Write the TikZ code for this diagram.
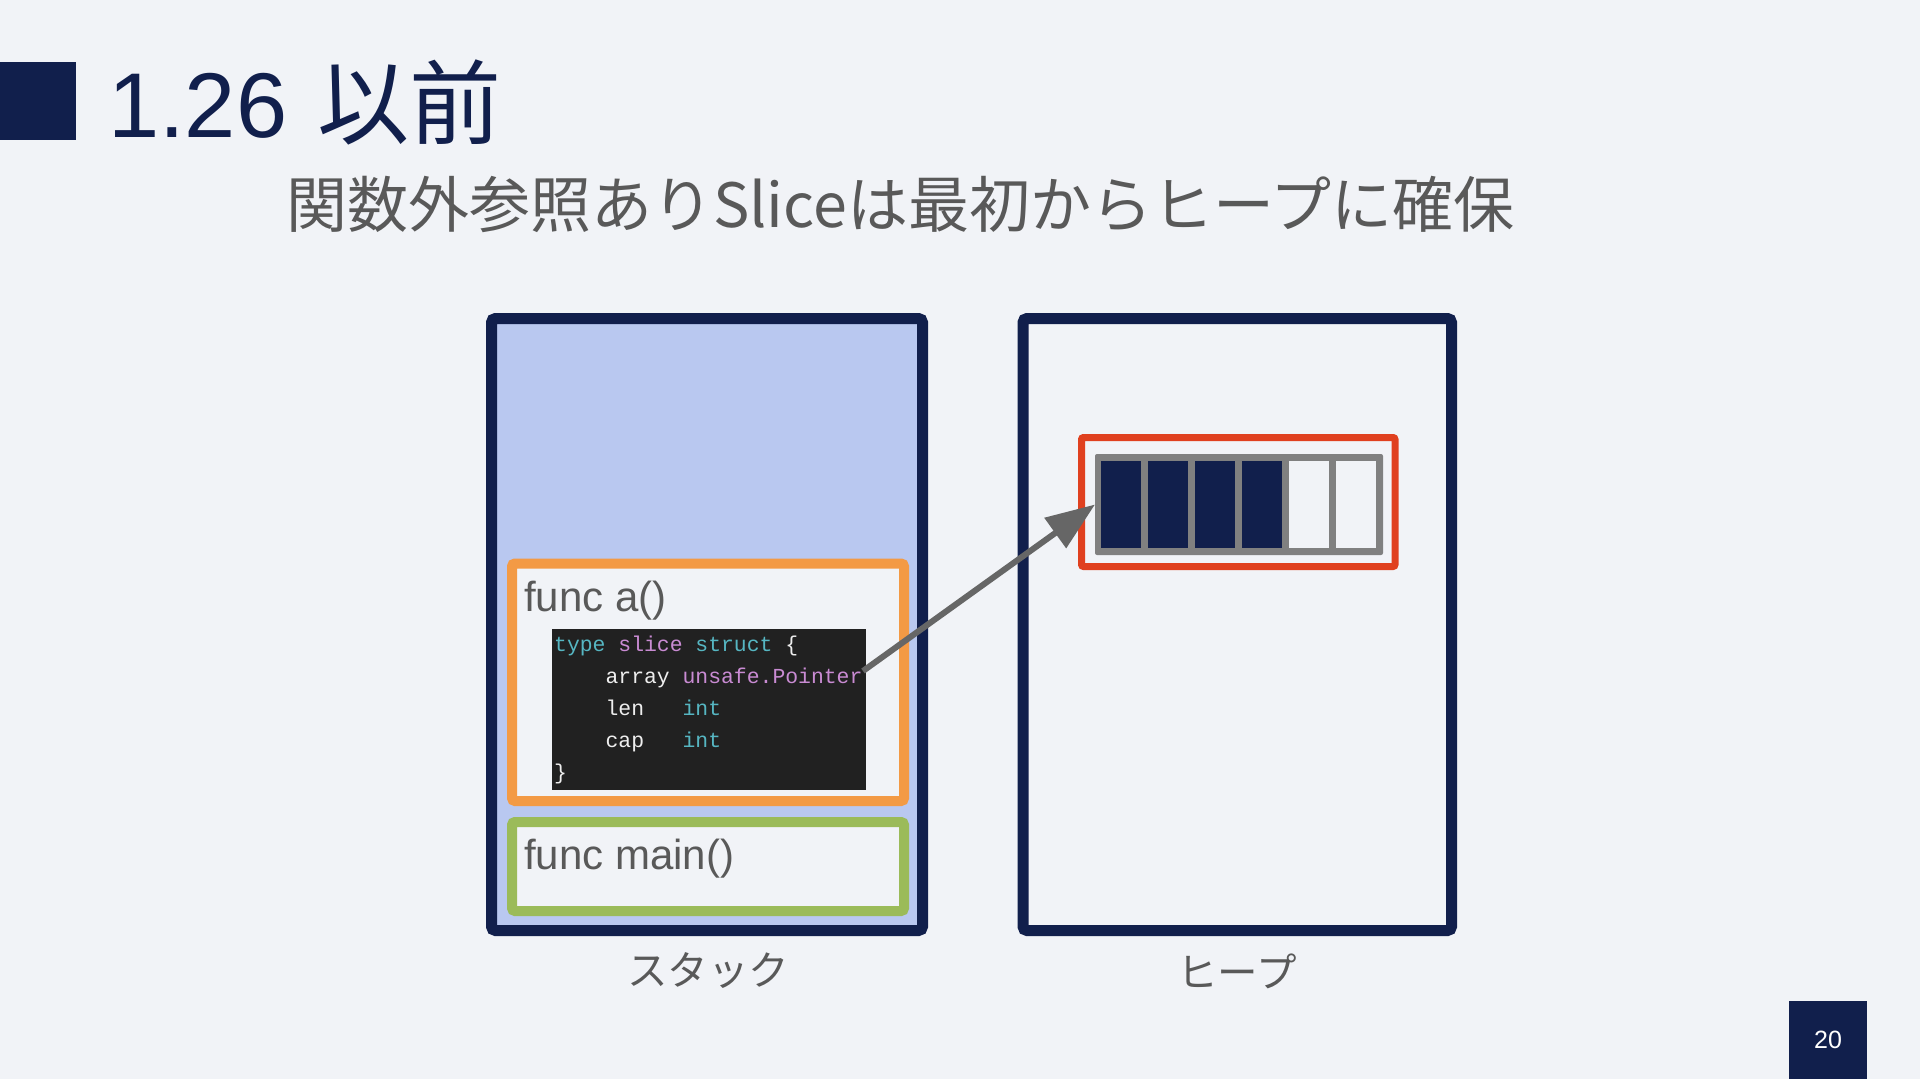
\documentclass[tikz,border=0pt]{standalone}
\usepackage{fontspec}
\setmainfont{Liberation Sans}
\setmonofont{Liberation Mono}
\newfontfamily\cjk{Noto Sans CJK JP}
\usetikzlibrary{arrows.meta}
\definecolor{bg}{HTML}{F1F3F7}
\definecolor{navy}{HTML}{111F4C}
\definecolor{stackfill}{HTML}{B9C8F0}
\definecolor{txtgray}{HTML}{595959}
\definecolor{orangeb}{HTML}{F39A45}
\definecolor{greenb}{HTML}{9BBB59}
\definecolor{redb}{HTML}{E0401F}
\definecolor{codebg}{HTML}{212121}
\definecolor{cy}{HTML}{56B6C2}
\definecolor{pu}{HTML}{C98BD3}
\definecolor{wh}{HTML}{EEEEEE}
\definecolor{arrgray}{HTML}{808080}
\definecolor{arrowgray}{HTML}{666666}
\newcommand{\sk}[1]{\hphantom{\ttfamily #1}}
\tikzset{
  memframe/.style={draw=navy, line width=11pt, rounded corners=4pt, inner sep=0pt, outer sep=0pt},
  framebox/.style={line width=10pt, rounded corners=3pt, fill=bg, inner sep=0pt, outer sep=0pt},
  cell/.style={minimum width=40pt, minimum height=87pt, inner sep=0pt, outer sep=0pt},
  codeline/.style={anchor=base west, inner sep=0pt, font=\fontsize{21.4}{21.4}\selectfont\ttfamily, text=wh},
  flabel/.style={anchor=base west, inner sep=0pt, text=txtgray, font=\fontsize{42}{42}\selectfont},
  memlabel/.style={inner sep=0pt, text=txtgray, font=\fontsize{40.5}{40.5}\selectfont\cjk},
  ptrarrow/.style={draw=arrowgray, line width=6pt, -{Triangle[length=49pt, width=36pt]}}
}
\begin{document}
\begin{tikzpicture}[x=1pt, y=-1pt]
\useasboundingbox (0,0) rectangle (1920,1079);
\fill[bg] (0,0) rectangle (1920,1079);
% title
\node[fill=navy, minimum width=76pt, minimum height=78pt, inner sep=0pt, outer sep=0pt] (tsq) at (38,101) {};
\node[anchor=base west, inner sep=0pt, text=navy, font=\fontsize{92}{92}\selectfont] (title) at (108,137) {1.26\hspace{0.33em}{\cjk 以前}};
\node[anchor=base west, inner sep=0pt, text=txtgray, font=\fontsize{61}{61}\selectfont\cjk] (subtitle) at (286,227) {関数外参照ありSliceは最初からヒープに確保};
% stack and heap
\node[memframe, fill=stackfill, minimum width=431pt, minimum height=612pt] (stack) at (707,624.5) {};
\node[memframe, fill=bg, minimum width=428.5pt, minimum height=612pt] (heap) at (1237.25,624.5) {};
% frames
\node[framebox, draw=orangeb, minimum width=392pt, minimum height=237.5pt] (fa) at (708,682.25) {};
\node[framebox, draw=greenb, minimum width=392pt, minimum height=89pt] (fmain) at (708,866.5) {};
\node[flabel] (fatxt) at (524,611) {func a()};
\node[flabel] (fmaintxt) at (524,869) {func main()};
% code
\node[fill=codebg, minimum width=314pt, minimum height=161pt, inner sep=0pt, outer sep=0pt] (code) at (709,709.5) {};
\node[codeline] (c1) at (554,651) {{\color{cy}type}\sk{x}{\color{pu}slice}\sk{x}{\color{cy}struct}\sk{x}\{};
\node[codeline] (c2) at (554,683) {\sk{xxxx}array\sk{x}{\color{pu}unsafe.Pointer}};
\node[codeline] (c3) at (554,715) {\sk{xxxx}len\sk{xxx}{\color{cy}int}};
\node[codeline] (c4) at (554,747) {\sk{xxxx}cap\sk{xxx}{\color{cy}int}};
\node[codeline] (c5) at (554,779) {\}};
% heap array
\node[draw=redb, line width=7pt, rounded corners=2pt, minimum width=313.5pt, minimum height=129pt, inner sep=0pt, outer sep=0pt] (redbox) at (1238.25,502) {};
\node[fill=arrgray, rounded corners=2pt, minimum width=288pt, minimum height=101pt, inner sep=0pt, outer sep=0pt] (arr) at (1239,504.5) {};
\node[cell, fill=navy] (a0) at (1121,504.5) {};
\node[cell, fill=navy] (a1) at (1168,504.5) {};
\node[cell, fill=navy] (a2) at (1215,504.5) {};
\node[cell, fill=navy] (a3) at (1262,504.5) {};
\node[cell, fill=bg] (a4) at (1309,504.5) {};
\node[cell, fill=bg] (a5) at (1356,504.5) {};
% arrow
\coordinate (ptr) at (863,671);
\draw[ptrarrow] (ptr) -- (arr.west);
% labels
\node[memlabel] (stacklbl) at (708,971) {スタック};
\node[memlabel] (heaplbl) at (1237,971) {ヒープ};
% page number
\node[fill=navy, minimum width=78pt, minimum height=78pt, inner sep=0pt, outer sep=0pt] (pg) at (1828,1040) {};
\node[text=white, inner sep=0pt, font=\fontsize{25}{25}\selectfont] (pgnum) at (pg.center) {20};
\end{tikzpicture}
\end{document}
